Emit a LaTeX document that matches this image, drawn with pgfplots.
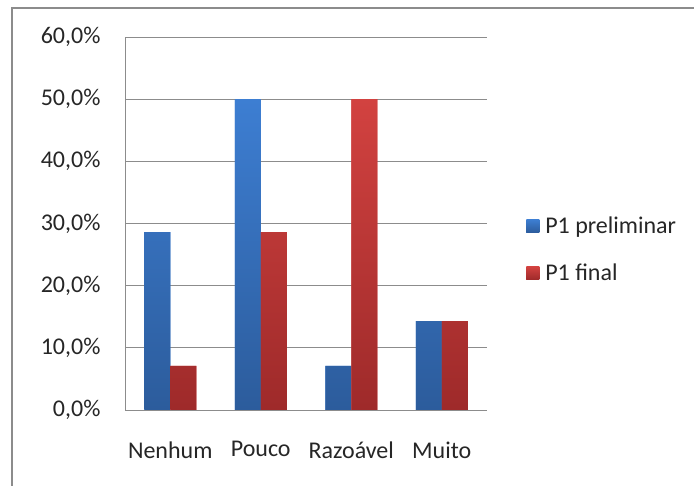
\documentclass[border=0pt]{standalone}
\usepackage{pgfplots}
\pgfplotsset{compat=1.18}
\usepackage{fontspec}
\setmainfont{Carlito}
\definecolor{gridgray}{HTML}{8C8C8C}
\definecolor{btop}{HTML}{3D7ED2}
\definecolor{bbot}{HTML}{2C5C9C}
\definecolor{rtop}{HTML}{D24240}
\definecolor{rbot}{HTML}{9E2A2A}
\begin{document}
\begin{tikzpicture}[x=1pt,y=1pt]
\path[use as bounding box] (0,0) rectangle (694,486);
\begin{scope}
\clip (0,0) rectangle (694,486);
\draw[gridgray, line width=1.6pt] (12,-20) -- (12,478) -- (720,478);
\end{scope}
\begin{axis}[
  at={(125pt,76pt)}, anchor=south west,
  scale only axis, width=362pt, height=373pt,
  xmin=-0.5, xmax=3.5, ymin=0, ymax=60,
  ytick={0,10,...,60},
  yticklabels={{0,0\%},{10,0\%},{20,0\%},{30,0\%},{40,0\%},{50,0\%},{60,0\%}},
  xtick={0,1,2,3},
  xticklabels={Nenhum,Pouco,Razoável,Muito},
  ybar, bar width=26pt,
  axis x line*=bottom, axis y line*=left,
  axis line style={gridgray, line width=0.8pt, -},
  ymajorgrids, grid style={gridgray, line width=0.8pt},
  major tick length=0pt,
  tick label style={font=\fontsize{24}{28}\selectfont, text=black!85},
  yticklabel style={xshift=-21pt},
  xticklabel style={yshift=-28pt},
  legend style={at={(1.108,0.43)}, anchor=west, draw=none, fill=none,
    font=\fontsize{24}{28}\selectfont, text=black!85, row sep=25pt,
    inner sep=0pt, nodes={inner xsep=6pt}},
  legend cell align=left,
  legend image code/.code={\fill[#1] (0pt,-6.5pt) rectangle (13pt,6.5pt);},
]
\addplot[draw=none, top color=btop, bottom color=bbot, fill=btop, bar shift=-13pt] coordinates {(0,28.6) (1,50) (2,7.1) (3,14.3)};
\addlegendentry{P1 preliminar}
\addplot[draw=none, top color=rtop, bottom color=rbot, fill=rtop, bar shift=13pt] coordinates {(0,7.1) (1,28.6) (2,50) (3,14.3)};
\addlegendentry{P1 final}
\end{axis}
\end{tikzpicture}
\end{document}
